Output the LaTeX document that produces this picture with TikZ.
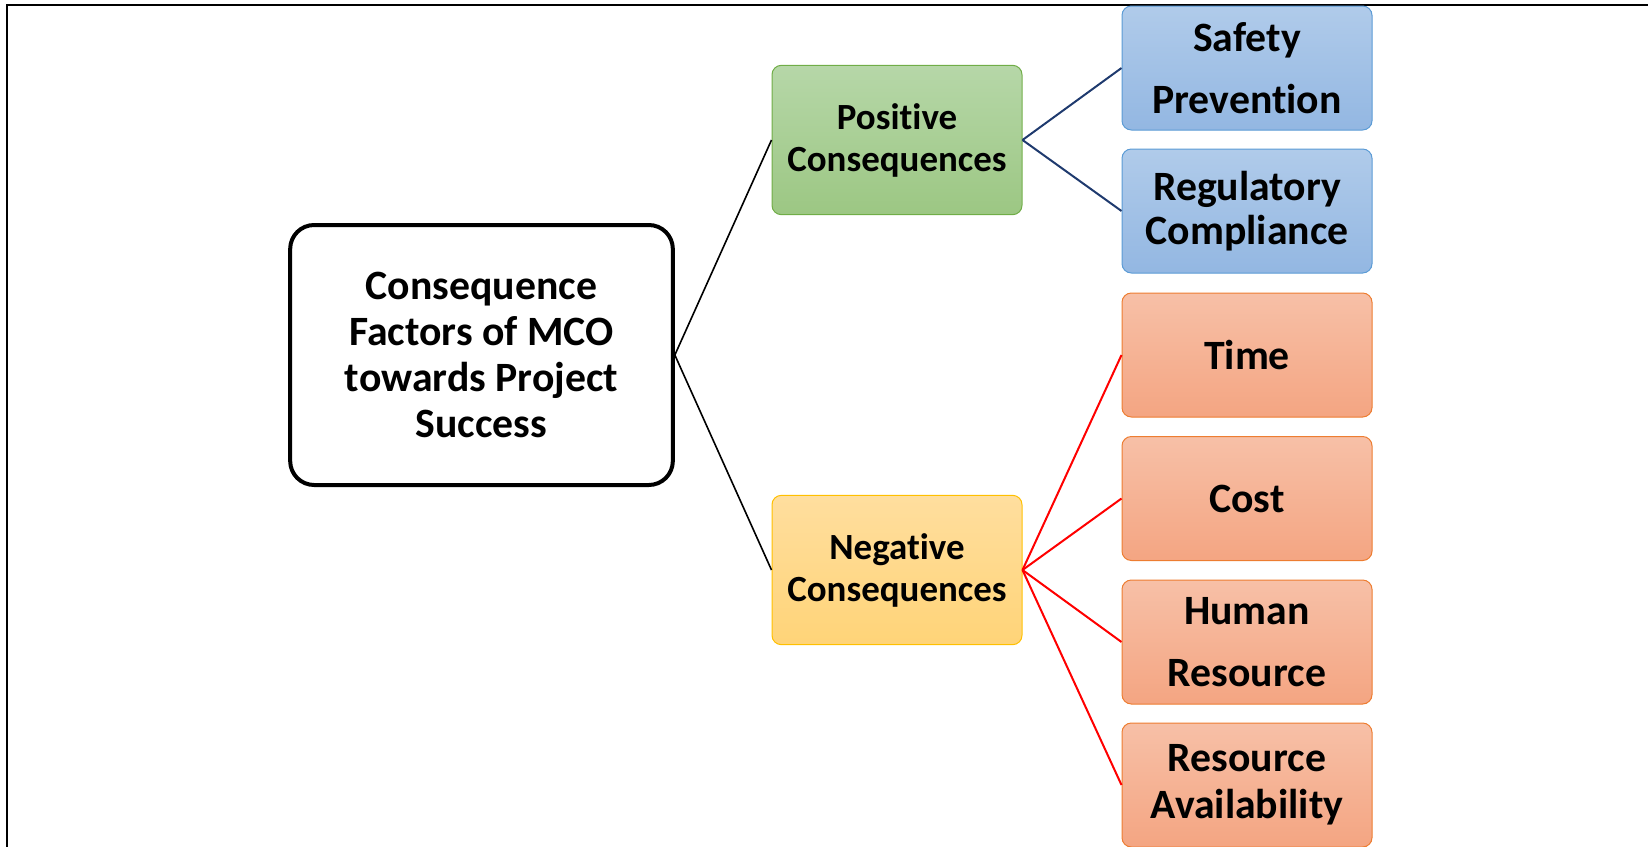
\documentclass[tikz,border=0pt]{standalone}
\usepackage{fontspec}
\setmainfont{Carlito}[Ligatures={NoCommon,NoRequired,NoContextual}]
\usepackage{tikz}

\definecolor{grntop}{HTML}{B6D7A8}
\definecolor{grnbot}{HTML}{9CC783}
\definecolor{grnline}{HTML}{70AD47}
\definecolor{yeltop}{HTML}{FFDE9E}
\definecolor{yelbot}{HTML}{FFD478}
\definecolor{yelline}{HTML}{FFC000}
\definecolor{blutop}{HTML}{B0CBEA}
\definecolor{blubot}{HTML}{93B7E2}
\definecolor{bluline}{HTML}{5B9BD5}
\definecolor{orgtop}{HTML}{F7C0A7}
\definecolor{orgbot}{HTML}{F4A582}
\definecolor{orgline}{HTML}{ED7D31}
\definecolor{navyline}{HTML}{1F3A6E}

\tikzset{
every picture/.style={
line width=1.2pt
},
rootbox/.style={draw, line width=3pt, rounded corners=18pt, inner sep=0pt,
  minimum width=287pt, minimum height=195pt, align=center,
  font=\fontsize{31.3}{34.5}\selectfont\bfseries},
midbox/.style={draw, line width=0.75pt, rounded corners=7pt, inner sep=0pt,
  minimum width=187.5pt, minimum height=112pt, align=center,
  font=\fontsize{27.7}{31.5}\selectfont\bfseries},
leafbox/.style={draw, line width=0.75pt, rounded corners=7pt, inner sep=0pt,
  minimum width=187.5pt, minimum height=93pt, align=center,
  font=\fontsize{31.3}{33}\selectfont\bfseries},
posbox/.style={midbox, draw=grnline, top color=grntop, bottom color=grnbot},
negbox/.style={midbox, draw=yelline, top color=yeltop, bottom color=yelbot},
blubox/.style={leafbox, draw=bluline, top color=blutop, bottom color=blubot},
orgbox/.style={leafbox, draw=orgline, top color=orgtop, bottom color=orgbot}
}

\begin{document}
\begin{tikzpicture}[x=0.75pt, y=-0.75pt]
  \useasboundingbox (0,0) rectangle (1648,846);
  % frame
  \draw [line width=1.8pt] (7,860) -- (7,5) -- (1660,5);

  % MCO consequence tree
  \node [rootbox] at (481.5, 355) (root) {Consequence\\Factors of MCO\\towards Project\\Success};

  \node [posbox] at (897, 140) (pos) {Positi\kern0pt ve\\Consequences};
  \node [negbox] at (897, 570) (neg) {Negati\kern0pt ve\\Consequences};

  \node [blubox] at (1247, 68) (safety) {Safety\\[14pt]Prevention};
  \node [blubox] at (1247, 211) (reg) {Regulatory\\Compliance};

  \node [orgbox] at (1247, 355) (time) {Time};
  \node [orgbox] at (1247, 498.5) (cost) {Cost};
  \node [orgbox] at (1247, 642) (human) {Human\\[14pt]Resource};
  \node [orgbox] at (1247, 785) (avail) {Resource\\[2pt]Availability};

  \draw (root.east) -- (pos.west);
  \draw (root.east) -- (neg.west);

  \draw [navyline, line width=1.5pt] (pos.east) -- (safety.west);
  \draw [navyline, line width=1.5pt] (pos.east) -- (reg.west);

  \foreach \leaf in {time, cost, human, avail}
    \draw [red, line width=1.5pt] (neg.east) -- (\leaf.west);

\end{tikzpicture}
\end{document}
